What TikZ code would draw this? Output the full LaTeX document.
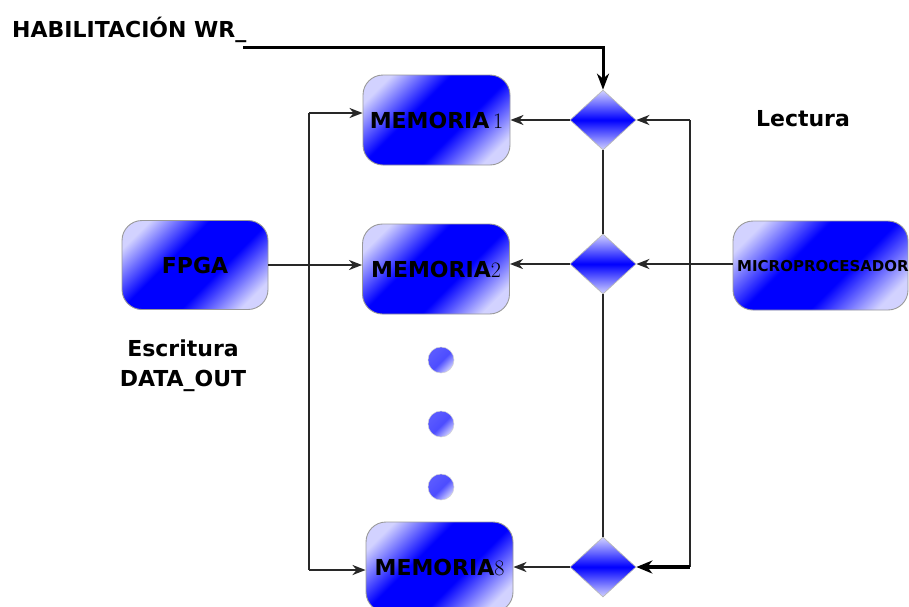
\documentclass[tikz,border=0pt]{standalone}
\usepackage{fontspec}
\setsansfont{DejaVu Sans}
\usetikzlibrary{shapes.geometric,arrows.meta}
\definecolor{lb}{RGB}{210,210,255}
\definecolor{wirec}{RGB}{40,40,40}
\pgfdeclarehorizontalshading{boxsh}{100bp}{color(0bp)=(lb); color(23bp)=(lb); color(41bp)=(blue); color(59bp)=(blue); color(77bp)=(lb); color(100bp)=(lb)}
\pgfdeclarehorizontalshading{dotsh}{100bp}{color(0bp)=(blue!65!white); color(30bp)=(blue!65!white); color(52bp)=(blue!70!white); color(75bp)=(lb); color(100bp)=(lb)}
\newcommand\memdig[1]{{\rmfamily\mdseries\fontsize{22}{26}\selectfont #1}}
\tikzset{
  lbl/.style={font=\sffamily\bfseries\fontsize{22}{30}\selectfont, inner sep=0},
  blk/.style={draw=gray!80, line width=0.9pt, rounded corners=20pt, shading=boxsh, shading angle=-45,
              minimum width=147pt, minimum height=90pt, inner sep=0,
              font=\sffamily\bfseries\fontsize{22}{27}\selectfont},
  dia/.style={diamond, draw=gray!55, line width=0.7pt, top color=lb, bottom color=lb, middle color=blue,
              minimum width=66pt, minimum height=60pt, inner sep=0},
  dotc/.style={circle, draw=gray!35, line width=0.5pt, shading=dotsh, shading angle=-45, minimum size=26pt, inner sep=0},
  conn/.style={draw=wirec, line width=2.2pt},
  conna/.style={draw=wirec, line width=2.2pt, arrows={-Stealth[length=13pt,width=10pt,inset=4pt]}},
}
\begin{document}
\begin{tikzpicture}[x=1pt,y=-1pt]
\clip (0,0) rectangle (909,606);
% labels
\node[lbl, anchor=west] (hab) at (12,30) {HABILITACIÓN WR\_};
\node[lbl] (lect) at (803,119) {Lectura};
\node[lbl, align=center] (esc) at (183,366) {Escritura\\DATA\_OUT};
% blocks
\node[blk] (m1) at (436.5,120) {MEMORIA\,\memdig{1}};
\node[blk] (m2) at (436,269) {MEMORIA\memdig{2}};
\node[blk] (m8) at (439.5,567) {MEMORIA\memdig{8}};
\node[blk, minimum width=146pt, minimum height=89pt] (fpga) at (195,265) {FPGA};
\node[blk, minimum width=175pt, minimum height=89pt] (mp) at (820.5,265.5) {};
\node[font=\sffamily\bfseries\fontsize{15}{18}\selectfont, anchor=west, inner sep=0] (mpt) at (737,266) {MICROPROCESADOR};
% diamonds
\node[dia] (d1) at (603,120) {};
\node[dia] (d2) at (603,264) {};
\node[dia] (d8) at (603,567) {};
% dots
\node[dotc] (p1) at (441,360) {};
\node[dotc] (p2) at (441,424) {};
\node[dotc] (p3) at (441,487) {};
% connectors
\coordinate (h0) at (243,47);
\draw[line width=3pt, arrows={-Stealth[length=16pt,width=12pt,inset=5pt]}] (h0) -| (d1.north);
\draw[conna] (d1.west) -- (m1.east |- d1.west);
\draw[conna] (d2.west) -- (m2.east |- d2.west);
\draw[conna] (d8.west) -- (m8.east |- d8.west);
\draw[conn] (d1.south) -- (d2.north);
\draw[conn] (d2.south) -- (d8.north);
\coordinate (r1) at (690,120);
\coordinate (r8) at (690,567);
\draw[conn] (r1) -- (r8);
\draw[conna] (r1) -- (d1.east);
\draw[draw=black, line width=3.2pt, arrows={-Stealth[length=16pt,width=13pt,inset=5pt]}] (r8) -- (d8.east);
\draw[conna] (mp.west |- d2.east) -- (d2.east);
\coordinate (l1) at (309,113);
\coordinate (l8) at (309,570);
\draw[conn] (l1) -- (l8);
\draw[conna] (l1) -- (l1 -| m1.west);
\draw[conna] (l8) -- (l8 -| m8.west);
\draw[conna] (fpga.east) -- (fpga.east -| m2.west);
\end{tikzpicture}
\end{document}
